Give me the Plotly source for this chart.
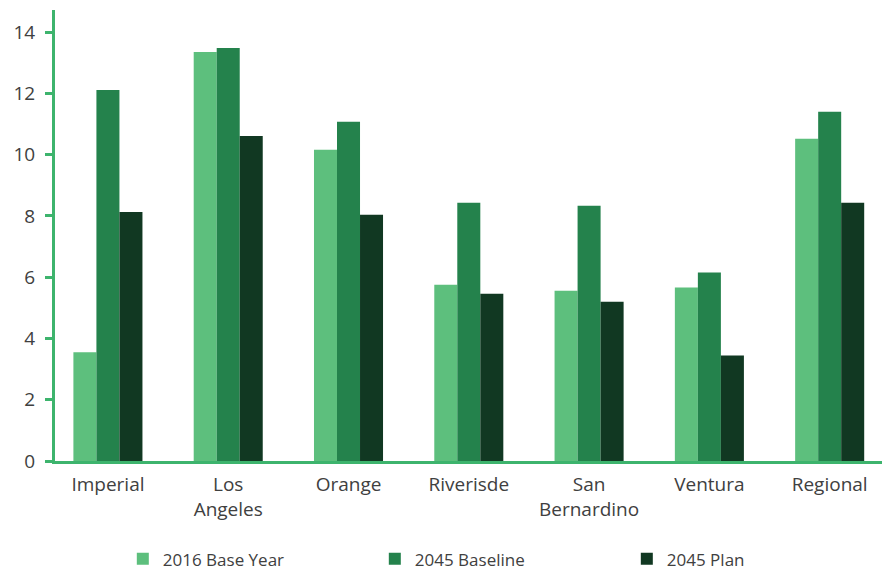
import plotly.graph_objects as go

categories = ["Imperial", "Los<br>Angeles", "Orange", "Riverisde", "San<br>Bernardino", "Ventura", "Regional"]
base_2016 = [3.55, 13.35, 10.16, 5.75, 5.56, 5.66, 10.52]
baseline_2045 = [12.11, 13.48, 11.07, 8.43, 8.33, 6.15, 11.40]
plan_2045 = [8.13, 10.61, 8.04, 5.46, 5.20, 3.44, 8.43]
series_names = ["2016 Base Year", "2045 Baseline", "2045 Plan"]
colors = ["#5DBF7D", "#24824C", "#113822"]
y_ticks = [0, 2, 4, 6, 8, 10, 12, 14]

font_family = "Open Sans, Lato, sans-serif"
fig = go.Figure()
for name, vals, col in zip(series_names, [base_2016, baseline_2045, plan_2045], colors):
    fig.add_trace(go.Bar(x=list(range(len(categories))), y=vals, name=name,
                         marker=dict(color=col, line=dict(width=0))))

fig.update_layout(
    width=882, height=572,
    margin=dict(l=55, r=0, t=10, b=110.5, autoexpand=False),
    paper_bgcolor="white", plot_bgcolor="white",
    barmode="group", bargap=0.426, bargroupgap=0,
    font=dict(family=font_family, color="#404040"),
    showlegend=True,
    legend=dict(orientation="h", x=0.082, xanchor="left", y=-0.218, yanchor="middle",
                font=dict(size=17, color="#404040"), entrywidth=207, entrywidthmode="pixels",
                itemsizing="constant", traceorder="normal"),
    xaxis=dict(tickmode="array", tickvals=list(range(len(categories))), ticktext=categories,
               range=[-0.44, 6.435], showline=True, linecolor="#3DB46D", linewidth=3,
               showgrid=False, ticks="", tickfont=dict(size=19, color="#404040"),
               ticklabelstandoff=4, zeroline=False),
    yaxis=dict(range=[0, 14.72], tickvals=y_ticks, showline=True, linecolor="#3DB46D",
               linewidth=3, ticks="outside", ticklen=7, tickwidth=3, tickcolor="#3DB46D",
               ticklabelstandoff=6,
               showgrid=False, zeroline=False, tickfont=dict(size=19, color="#404040")),
)

fig.write_html("out.html")
